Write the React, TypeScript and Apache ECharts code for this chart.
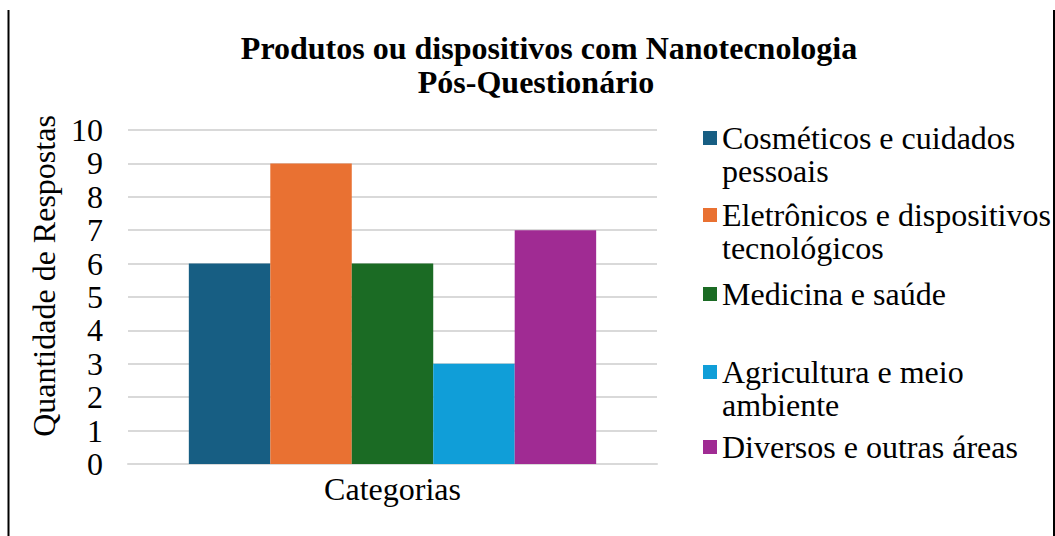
import React, { useEffect, useRef } from "react";
import * as echarts from "echarts";

const categories = ["Categorias"];
const seriesNames = [
  "Cosméticos e cuidados\npessoais",
  "Eletrônicos e dispositivos\ntecnológicos",
  "Medicina e saúde",
  "Agricultura e meio\nambiente",
  "Diversos e outras áreas",
];
const seriesValues = [6, 9, 6, 3, 7];
const seriesColors = ["#175E83", "#E97132", "#1B6B24", "#109ED8", "#A02B93"];
const yTicks = [0, 1, 2, 3, 4, 5, 6, 7, 8, 9, 10];
const titleLines = ["Produtos ou dispositivos com Nanotecnologia", "Pós-Questionário"];

const FONT = "Liberation Serif";
const LH = 33;

export default function App() {
  const ref = useRef<HTMLDivElement>(null);
  useEffect(() => {
    if (!ref.current) return;
    const chart = echarts.init(ref.current, null, { renderer: "svg" });
    const iconCenters = [138, 215, 294, 372, 447];
    const titleX = [544, 531];
    const option: any = {
      animation: false,
      backgroundColor: "#ffffff",
      title: titleLines.map((t, i) => ({
        text: t,
        left: titleX[i],
        textAlign: "center",
        top: 26 + i * 34,
        textStyle: {
          fontFamily: FONT,
          fontWeight: "bold",
          fontSize: 32,
          lineHeight: 34,
          color: "#000",
        },
      })),
      legend: seriesNames.map((n, i) => {
        const multi = n.includes("\n");
        return {
          data: [n],
          orient: "vertical",
          left: 703,
          top: iconCenters[i] - (multi ? 1.5 * LH : 0.5 * LH),
          icon: "rect",
          itemWidth: 14,
          itemHeight: 14,
          itemGap: 0,
          padding: 0,
          selectedMode: false,
          formatter: (name: string) => (name.includes("\n") ? "\n" + name : name),
          textStyle: {
            fontFamily: FONT,
            fontSize: 32,
            lineHeight: LH,
            color: "#000",
          },
        };
      }),
      grid: { left: 128, top: 130, width: 529, height: 334, containLabel: false },
      xAxis: {
        type: "category",
        data: categories,
        axisLine: { show: true, lineStyle: { color: "#d9d9d9", width: 2 } },
        axisTick: { show: false },
        axisLabel: {
          fontFamily: FONT,
          fontSize: 32,
          color: "#000",
          margin: 9,
        },
      },
      yAxis: {
        type: "value",
        min: 0,
        max: 10,
        interval: 1,
        name: "Quantidade de Respostas",
        nameLocation: "middle",
        nameGap: 50,
        nameTextStyle: {
          fontFamily: FONT,
          fontSize: 32,
          color: "#000",
          padding: [0, 0, 0, 42],
        },
        axisLine: { show: false },
        axisTick: { show: false },
        splitLine: { lineStyle: { color: "#d9d9d9", width: 2 } },
        axisLabel: {
          fontFamily: FONT,
          fontSize: 32,
          color: "#000",
          margin: 25,
          formatter: (v: number) => (yTicks.includes(v) ? String(v) : ""),
        },
      },
      series: seriesNames.map((n, i) => ({
        type: "bar",
        name: n,
        data: [seriesValues[i]],
        itemStyle: { color: seriesColors[i] },
        barGap: "0%",
        barCategoryGap: "23%",
      })),
      graphic: [
        {
          type: "line",
          shape: { x1: 8.5, y1: 10, x2: 8.5, y2: 536 },
          style: { stroke: "#000", lineWidth: 2 },
        },
        {
          type: "line",
          shape: { x1: 1054, y1: 10, x2: 1054, y2: 536 },
          style: { stroke: "#000", lineWidth: 2 },
        },
      ],
    };
    chart.setOption(option);
    return () => chart.dispose();
  }, []);
  return (
    <div
      ref={ref}
      style={{ position: "absolute", left: 0, top: 0, width: 1055, height: 536 }}
    />
  );
}
